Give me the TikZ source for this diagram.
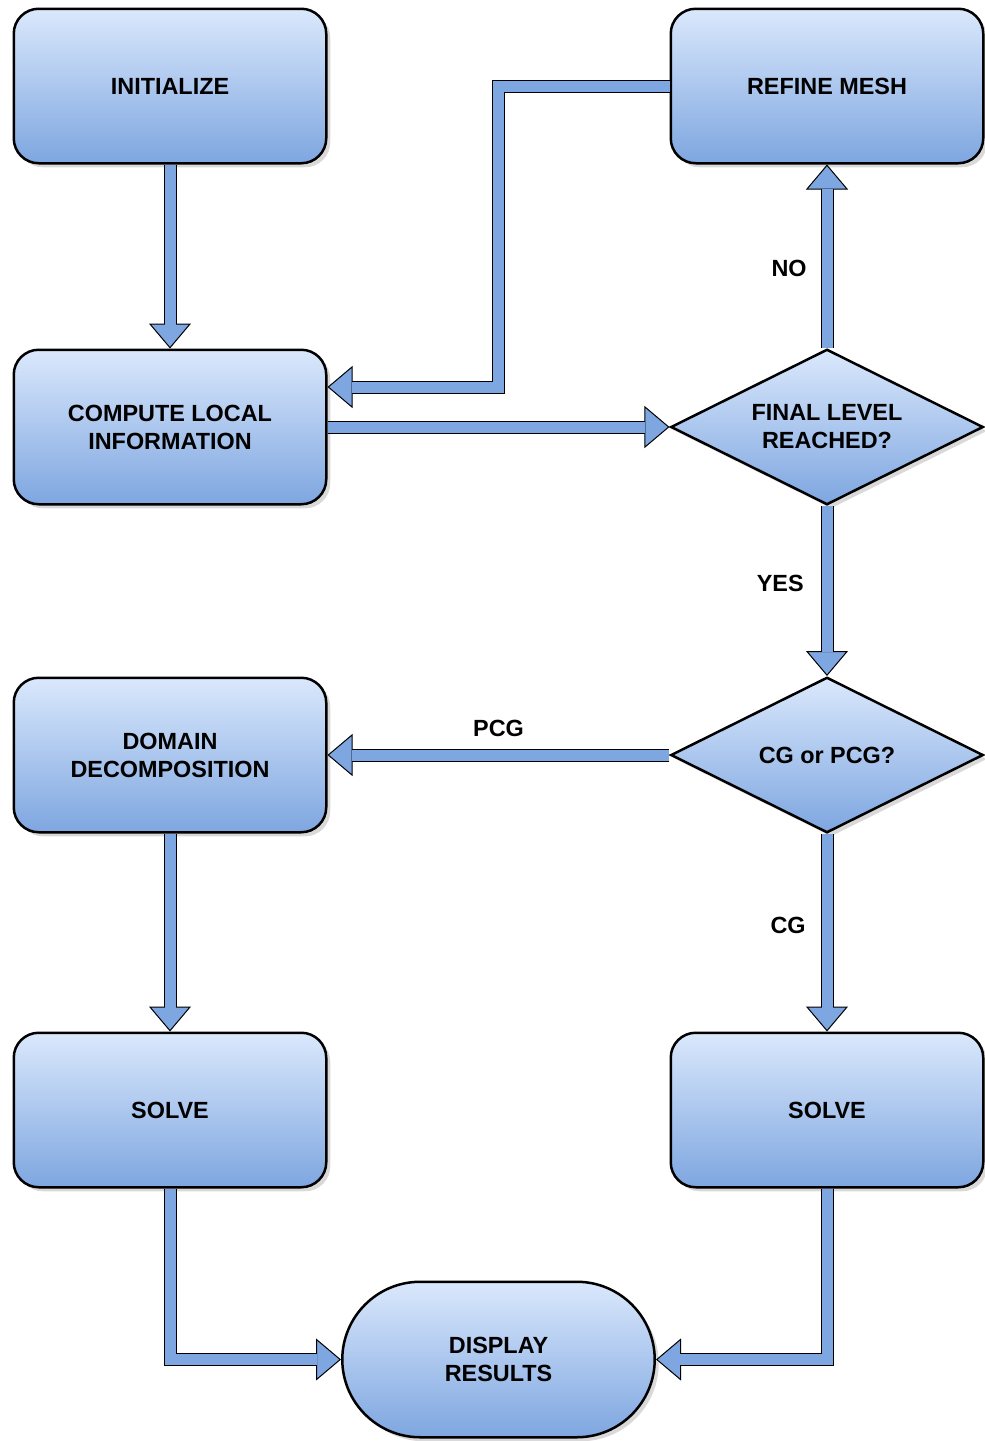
\documentclass[tikz,border=0pt]{standalone}
\usepackage{fontspec}
\setmainfont{Liberation Sans}
\usetikzlibrary{positioning,calc,shapes.geometric,shadows,arrows.meta}

\definecolor{boxtop}{RGB}{218,232,252}
\definecolor{boxbot}{RGB}{126,166,224}
\definecolor{flowblue}{RGB}{126,166,224}

% block arrow: black outline first, blue core on top
\newcommand{\flow}[1]{%
  \draw[flowedge] #1;
  \draw[flowcore] #1;}

\begin{document}
\begin{tikzpicture}[x=0.5pt,y=-0.5pt,font=\fontsize{11.7}{14}\selectfont\bfseries]
\tikzstyle{box}=[rectangle,rounded corners=12.5pt,draw,line width=1.25pt,minimum width=156.25pt,minimum height=77.25pt,align=center,top color=boxtop,bottom color=boxbot,drop shadow={shadow xshift=2pt,shadow yshift=-2pt,opacity=.3}]
\tikzstyle{choice}=[box,diamond,sharp corners,aspect=2,inner sep=0pt,minimum width=156.25pt,minimum height=77.75pt]
\tikzstyle{term}=[box,rounded corners=39pt,minimum height=77.75pt]
\tikzstyle{flowedge}=[draw=black,line width=6.5pt,-{Triangle[length=12.5pt,width=21pt,line width=0.5pt,fill=flowblue]}]
\tikzstyle{flowcore}=[draw=flowblue,line width=5.5pt,shorten >=12pt]
\tikzstyle{lbl}=[inner sep=0pt]
\useasboundingbox (0,0) rectangle (985,1441);
\node[box]	(init)	at (170,86)	{INITIALIZE};
\node[box]	(refine)	[right=171pt of init]	{REFINE MESH};
\node[box]	(local)	[below=92pt of init]	{COMPUTE LOCAL\\INFORMATION};
\node[choice]	(final)	[right=171pt of local]	{FINAL LEVEL\\REACHED?};
\node[box]	(domain)	[below=85.5pt of local]	{DOMAIN\\DECOMPOSITION};
\node[choice]	(cgpcg)	[right=171pt of domain]	{CG or PCG?};
\node[box]	(solveL)	[below=99pt of domain]	{SOLVE};
\node[box]	(solveR)	[right=171pt of solveL]	{SOLVE};
\coordinate (mid) at ($(solveL.south)!.5!(solveR.south)$);
\node[term]	(display)	[below=46pt of mid]	{DISPLAY\\RESULTS};
\flow{(init) -- (local)}
\flow{(local) -- (final)}
\flow{(refine.west) -- ++(-171,0) |- ([yshift=20pt]local.east)}
\flow{(final) -- (refine)}
\flow{(final) -- (cgpcg)}
\flow{(cgpcg) -- (domain)}
\flow{(domain) -- (solveL)}
\flow{(cgpcg) -- (solveR)}
\flow{(solveL) |- (display)}
\flow{(solveR) |- (display)}
\path (final.north) -- (refine.south) node[lbl,pos=.435,left=10pt] (no) {NO};
\path (final.south) -- (cgpcg.north) node[lbl,pos=.456,left=11.5pt] (yes) {YES};
\path (cgpcg.west) -- (domain.east) node[lbl,midway,above=9pt] (pcg) {PCG};
\path (cgpcg.south) -- (solveR.north) node[lbl,pos=.465,left=10.5pt] (cg) {CG};
\end{tikzpicture}
\end{document}
